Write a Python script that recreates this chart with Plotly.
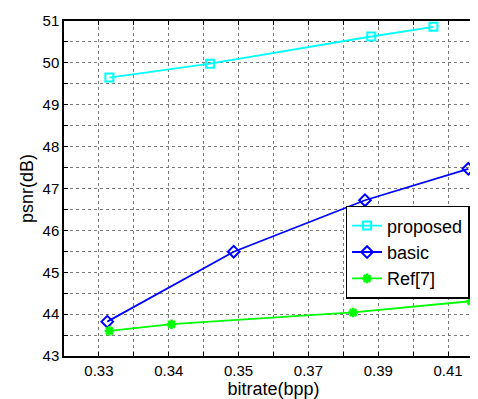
import plotly.graph_objects as go

# x values are in axis units (ticks every 0.01 are labelled with tick_text)
tick_vals = [0.33, 0.34, 0.35, 0.36, 0.37, 0.38]
tick_text = ["0.33", "0.34", "0.35", "0.37", "0.39", "0.41"]

proposed_x = [0.3315, 0.3459, 0.3690, 0.3779]
proposed_y = [49.65, 49.98, 50.63, 50.86]

basic_x = [0.3312, 0.3493, 0.3681, 0.3829]
basic_y = [43.82, 45.49, 46.72, 47.47]

ref7_x = [0.3315, 0.3404, 0.3664, 0.3833]
ref7_y = [43.60, 43.76, 44.04, 44.31]

FONT = "Arial, Liberation Sans, sans-serif"

fig = go.Figure()
fig.add_trace(go.Scatter(x=proposed_x, y=proposed_y, name="proposed", mode="lines+markers",
                         line=dict(color="#00ffff", width=1.8),
                         marker=dict(symbol="square-open", size=8, color="#00ffff",
                                     line=dict(width=2, color="#00ffff"))))
fig.add_trace(go.Scatter(x=basic_x, y=basic_y, name="basic", mode="lines+markers",
                         line=dict(color="#0000ff", width=1.8),
                         marker=dict(symbol="diamond-open", size=9, color="#0000ff",
                                     line=dict(width=2, color="#0000ff"))))
fig.add_trace(go.Scatter(x=ref7_x, y=ref7_y, name="Ref[7]", mode="lines+markers",
                         line=dict(color="#00ff00", width=1.8),
                         marker=dict(symbol="asterisk-open", size=8, color="#00ff00",
                                     line=dict(width=2.5, color="#00ff00"))))

fig.update_layout(
    width=478, height=399,
    margin=dict(l=56, r=1, t=13, b=51),
    paper_bgcolor="white", plot_bgcolor="white",
    font=dict(family=FONT, size=15, color="black"),
    showlegend=True,
    legend=dict(x=0.672, y=0.448, xanchor="left", yanchor="top",
                bgcolor="white", bordercolor="black", borderwidth=1.5,
                font=dict(size=18), tracegroupgap=0),
)
fig.update_xaxes(range=[0.325, 0.385], tickmode="array", tickvals=tick_vals, ticktext=tick_text,
                 showgrid=True, gridcolor="#7a7a7a", griddash="dot", gridwidth=1,
                 minor=dict(dtick=0.005, showgrid=True, gridcolor="#7a7a7a", griddash="dot",
                            ticks="inside", ticklen=4, tickcolor="black"),
                 ticks="inside", ticklen=4, tickcolor="black",
                 showline=True, linecolor="black", linewidth=1.5, mirror="ticks",
                 zeroline=False, tickfont=dict(size=15),
                 title=dict(text="bitrate(bpp)", font=dict(size=18), standoff=2))
fig.update_yaxes(range=[43, 51], dtick=1, tick0=43,
                 showgrid=True, gridcolor="#7a7a7a", griddash="dot", gridwidth=1,
                 minor=dict(dtick=0.5, showgrid=True, gridcolor="#7a7a7a", griddash="dot",
                            ticks="inside", ticklen=4, tickcolor="black"),
                 ticks="inside", ticklen=4, tickcolor="black",
                 showline=True, linecolor="black", linewidth=1.5, mirror="ticks",
                 zeroline=False, tickfont=dict(size=15),
                 title=dict(text="psnr(dB)", font=dict(size=18), standoff=4))

fig.write_html("out.html")
